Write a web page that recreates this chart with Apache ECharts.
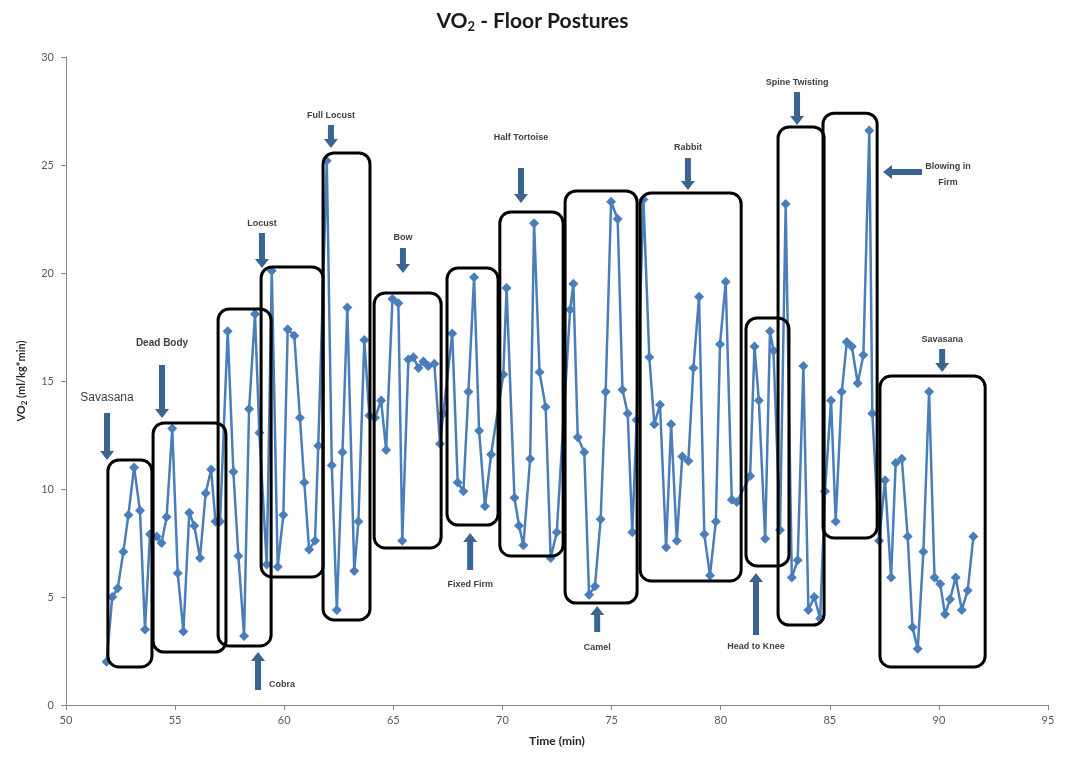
<!DOCTYPE html>
<html><head><meta charset="utf-8">
<script src="https://cdn.jsdelivr.net/npm/echarts@6/dist/echarts.min.js"></script>
<style>html,body{margin:0;padding:0;background:#fff}#c{width:1065px;height:761px}</style>
</head><body><div id="c"></div>
<script>
// Time (min)
const times = [
51.86,52.12,52.37,52.63,52.86,53.12,53.39,53.62,53.85,
54.16,54.38,54.61,54.87,55.12,55.38,55.65,55.88,56.14,56.40,56.65,56.85,57.06,
57.41,57.67,57.90,58.16,58.39,58.66,58.86,
59.20,59.43,59.70,59.96,60.16,60.46,60.72,60.92,61.14,61.41,61.56,
61.95,62.18,62.41,62.67,62.89,63.21,63.40,63.67,63.90,
64.16,64.44,64.67,64.96,65.23,65.41,65.69,65.92,66.15,66.38,66.60,66.88,67.14,67.29,
67.70,67.95,68.21,68.44,68.70,68.93,69.20,69.48,
70.04,70.19,70.55,70.76,70.96,71.27,71.45,71.70,71.98,72.21,72.49,
73.10,73.25,73.45,73.75,73.97,74.24,74.50,74.73,74.98,75.28,75.50,75.74,75.95,76.15,
76.46,76.73,76.96,77.22,77.50,77.73,77.99,78.24,78.52,78.75,79.01,79.25,79.51,79.78,79.97,80.23,80.51,80.74,
81.35,81.55,81.75,82.04,82.26,82.42,82.72,
82.98,83.26,83.53,83.79,84.02,84.29,84.56,84.78,
85.06,85.27,85.55,85.78,86.01,86.28,86.54,86.81,86.95,
87.26,87.53,87.81,88.02,88.30,88.57,88.79,89.03,89.29,89.55,89.80,90.06,90.28,90.51,90.77,91.05,91.32,91.58
];
// VO2 (ml/kg*min)
const vo2 = [
2.0,5.0,5.4,7.1,8.8,11.0,9.0,3.5,7.9,
7.8,7.5,8.7,12.8,6.1,3.4,8.9,8.3,6.8,9.8,10.9,8.5,8.5,
17.3,10.8,6.9,3.2,13.7,18.1,12.6,
6.5,20.1,6.4,8.8,17.4,17.1,13.3,10.3,7.2,7.6,12.0,
25.2,11.1,4.4,11.7,18.4,6.2,8.5,16.9,13.4,
13.3,14.1,11.8,18.8,18.6,7.6,16.0,16.1,15.6,15.9,15.7,15.8,12.1,13.5,
17.2,10.3,9.9,14.5,19.8,12.7,9.2,11.6,
15.3,19.3,9.6,8.3,7.4,11.4,22.3,15.4,13.8,6.8,8.0,
18.3,19.5,12.4,11.7,5.1,5.5,8.6,14.5,23.3,22.5,14.6,13.5,8.0,13.2,
23.4,16.1,13.0,13.9,7.3,13.0,7.6,11.5,11.3,15.6,18.9,7.9,6.0,8.5,16.7,19.6,9.5,9.4,
10.6,16.6,14.1,7.7,17.3,16.4,8.1,
23.2,5.9,6.7,15.7,4.4,5.0,4.0,9.9,
14.1,8.5,14.5,16.8,16.6,14.9,16.2,26.6,13.5,
7.6,10.4,5.9,11.2,11.4,7.8,3.6,2.6,7.1,14.5,5.9,5.6,4.2,4.9,5.9,4.4,5.3,7.8
];
// Posture boxes [xStart, xEnd, yTop, yBottom] (data units)
const boxes = [
[51.92,53.94,11.34,1.76],
[53.99,57.33,13.06,2.45],
[56.97,59.40,18.33,2.73],
[58.94,61.78,20.28,5.93],
[61.78,63.93,25.56,3.94],
[64.12,67.19,19.07,7.27],
[67.46,69.80,20.23,8.33],
[69.88,72.78,22.82,6.90],
[72.87,76.17,23.80,4.72],
[76.31,80.94,23.70,5.74],
[81.16,83.13,17.92,6.44],
[82.63,84.74,26.76,3.70],
[84.69,87.17,27.40,7.73],
[87.30,92.12,15.23,1.76]
];
// Downward arrows: [label, x, yLabel, yFrom, yTo, fontSize]
const downLabels = [
['Savasana',51.88,14.21,13.52,11.34,12],
['Dead Body',54.40,16.76,15.74,13.29,10],
['Locust',58.98,22.31,21.85,20.23,9],
['Full Locust',62.14,27.27,26.85,25.79,9],
['Bow',65.44,21.62,21.16,20.00,9],
['Half Tortoise',70.85,26.25,24.86,23.24,9],
['Rabbit',78.50,25.83,25.32,23.84,9],
['Spine Twisting',83.50,28.80,28.38,26.85,9],
['Savasana',90.15,16.94,16.48,15.42,9]
];
// Upward arrows: [label, x, yLabel, yFrom, yTo, labelX]
const upLabels = [
['Cobra',58.80,0.93,0.69,2.45,59.90],
['Fixed Firm',68.52,5.60,6.25,7.96,68.52],
['Camel',74.34,2.64,3.38,4.58,74.34],
['Head to Knee',81.62,2.69,3.24,6.11,81.62]
];
// Left arrow: [label lines, xLabel, yLabel(top), xFrom, xTo, y]
const leftLabels = [
[['Blowing in','Firm'],90.42,25.32,89.23,87.44,24.68]
];

const chart = echarts.init(document.getElementById('c'));
const axisFont = {color:'#595959', fontSize:11, fontFamily:'Lato, Liberation Sans, sans-serif'};
chart.setOption({
  animation:false,
  backgroundColor:'#fff',
  title:{
    text:'{a|VO}{s|2}{a| - Floor Postures}',
    left:'center', top:5,
    textStyle:{rich:{
      a:{fontSize:21,fontWeight:'bold',color:'#1a1a1a',fontFamily:'Lato, sans-serif'},
      s:{fontSize:13,fontWeight:'bold',color:'#1a1a1a',fontFamily:'Lato, sans-serif',padding:[10,0,0,0]}
    }}
  },
  grid:{left:66,right:17,top:57,bottom:56},
  xAxis:{
    type:'value',min:50,max:95,interval:5,
    name:'Time (min)',nameLocation:'middle',nameGap:30,
    nameTextStyle:{fontSize:12,fontWeight:'bold',color:'#262626',fontFamily:'Lato, sans-serif'},
    axisLine:{lineStyle:{color:'#868686'}},
    axisTick:{show:true,length:5,lineStyle:{color:'#868686'}},
    splitLine:{show:false},
    axisLabel:Object.assign({margin:10},axisFont)
  },
  yAxis:{
    type:'value',min:0,max:30,interval:5,
    name:'{a|VO}{s|2}{a| (ml/kg*min)}',nameLocation:'middle',nameGap:38,nameRotate:90,
    nameTextStyle:{rich:{
      a:{fontSize:11,fontWeight:'bold',color:'#262626',fontFamily:'Lato, sans-serif'},
      s:{fontSize:8,fontWeight:'bold',color:'#262626',fontFamily:'Lato, sans-serif',padding:[6,0,0,0]}
    }},
    axisLine:{show:true,lineStyle:{color:'#868686'}},
    axisTick:{show:true,length:5,lineStyle:{color:'#868686'}},
    splitLine:{show:false},
    axisLabel:Object.assign({margin:12},axisFont)
  },
  series:[{
    type:'line',
    data:times.map((t,i)=>[t,vo2[i]]),
    symbol:'diamond',symbolSize:10,
    lineStyle:{width:2.5,color:'#4a7ebb'},
    itemStyle:{color:'#4a7ebb'},
    z:2
  }]
});

function px(x,y){return chart.convertToPixel({gridIndex:0},[x,y]);}
const arrowColor = '#3b6491';
const labelColor = '#404040';
const g = [];
boxes.forEach(b=>{
  const p0 = px(b[0],b[2]), p1 = px(b[1],b[3]);
  g.push({type:'rect',z:100,shape:{x:p0[0],y:p0[1],width:p1[0]-p0[0],height:p1[1]-p0[1],r:11},
    style:{fill:null,stroke:'#000',lineWidth:3}});
});
function vArrow(x,yFrom,yTo){
  const dir = yTo>yFrom?1:-1, hw=3, hh=7, hl=9;
  const yb = yTo - dir*hl;
  return {type:'polygon',z:101,shape:{points:[[x-hw,yFrom],[x+hw,yFrom],[x+hw,yb],[x+hh,yb],[x,yTo],[x-hh,yb],[x-hw,yb]]},style:{fill:arrowColor}};
}
function hArrow(y,xFrom,xTo){
  const dir = xTo>xFrom?1:-1, hw=3, hh=7, hl=9;
  const xb = xTo - dir*hl;
  return {type:'polygon',z:101,shape:{points:[[xFrom,y-hw],[xFrom,y+hw],[xb,y+hw],[xb,y+hh],[xTo,y],[xb,y-hh],[xb,y-hw]]},style:{fill:arrowColor}};
}
downLabels.forEach(d=>{
  const a=px(d[1],d[3]), b=px(d[1],d[4]), l=px(d[1],d[2]);
  g.push(vArrow(a[0],a[1],b[1]));
  g.push({type:'text',z:102,x:l[0],y:l[1],style:{text:d[0],fill:labelColor,fontSize:d[5],
    fontWeight:d[5]>=12?'normal':'bold',fontFamily:'Liberation Sans, Arial, sans-serif',align:'center',verticalAlign:'middle'}});
});
upLabels.forEach(d=>{
  const a=px(d[1],d[3]), b=px(d[1],d[4]), l=px(d[5],d[2]);
  g.push(vArrow(a[0],a[1],b[1]));
  g.push({type:'text',z:102,x:l[0],y:l[1],style:{text:d[0],fill:labelColor,fontSize:9,fontWeight:'bold',
    fontFamily:'Liberation Sans, Arial, sans-serif',align:'center',verticalAlign:'middle'}});
});
leftLabels.forEach(d=>{
  const a=px(d[3],d[5]), b=px(d[4],d[5]), l=px(d[1],d[2]);
  g.push(hArrow(a[1],a[0],b[0]));
  g.push({type:'text',z:102,x:l[0],y:l[1],style:{text:d[0].join('\n'),fill:labelColor,fontSize:9,fontWeight:'bold',
    lineHeight:16,fontFamily:'Liberation Sans, Arial, sans-serif',align:'center',verticalAlign:'top'}});
});
chart.setOption({graphic:g});
</script>
</body></html>
